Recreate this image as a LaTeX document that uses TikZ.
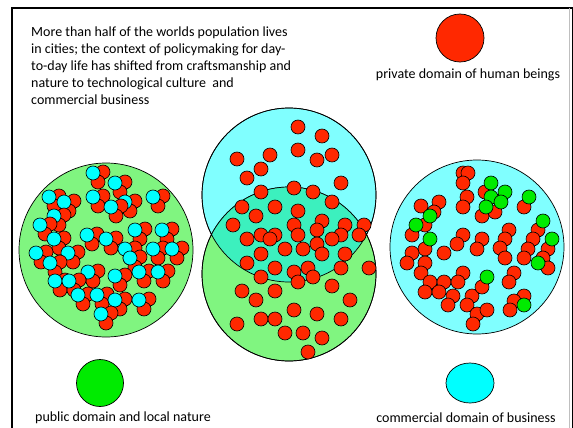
\documentclass[tikz,border=0pt]{standalone}
\usepackage{fontspec}
\setmainfont{Carlito}
\usetikzlibrary{shapes.geometric,positioning}
\definecolor{dotred}{RGB}{255,40,0}
\definecolor{dotcyan}{RGB}{0,255,255}
\definecolor{dotgreen}{RGB}{0,235,0}
\definecolor{paleblue}{RGB}{128,255,255}
\definecolor{palegreen}{RGB}{128,245,128}
\definecolor{mixgreen}{RGB}{60,240,190}

\tikzset{
  dot/.style={circle, draw=black, line width=0.6pt, inner sep=0pt, minimum size=14pt},
  reddot/.style={dot, fill=dotred},
  cyandot/.style={dot, fill=dotcyan},
  greendot/.style={dot, fill=dotgreen},
  bigarea/.style={circle, draw=black, line width=0.7pt, inner sep=0pt, minimum size=174pt},
  keydot/.style={draw=black, line width=0.7pt, inner sep=0pt},
  caption/.style={font=\fontsize{14}{17}\selectfont, inner sep=0pt}
}

\begin{document}
\begin{tikzpicture}[x=1pt, y=-1pt]
    \useasboundingbox (0,0) rectangle (573,428);

    % Frame
    \draw[line width=2.3pt] (12,428) -- (12,8) -- (573,8);
    \draw[gray!50, line width=0.8pt] (569,8) -- (569,428);
    \draw[line width=1pt] (572.5,8) -- (572.5,428);

    % Intro text
    \node[caption, anchor=base west, align=left] (intro) at (31,104)
        {More than half of the worlds population lives\\
         in cities; the context of policymaking for day-\\
         to-day life has shifted from craftsmanship and\\
         nature to technological culture\ \ and\\
         commercial business};

    % Public domain (left)
    \node[bigarea, fill=palegreen] (nature) at (106,250) {};
    \foreach \x/\y [count=\i] in {93/173, 115/183, 49/197, 64/202, 93/197, 125/202, 111/207,
            153/197, 54/216, 40/225, 135/230, 162/230, 87/235, 106/239, 54/239, 36/253,
            68/253, 125/249, 153/249, 172/249, 130/258, 50/263, 88/272, 139/272, 158/272,
            115/276, 55/281, 69/281, 78/295, 97/295, 115/300, 139/300, 101/314} {
        \node[reddot] (na\i) at (\x+10,\y-1) {};
        \node[reddot] (nb\i) at (\x+5,\y+9) {};
        \node[cyandot] (nc\i) at (\x,\y) {};
    }

    % City (middle)
    \node[bigarea, fill=paleblue] (citytop) at (289,195) {};
    \node[bigarea, fill=palegreen] (citybot) at (289,274) {};
    \begin{scope}
        \clip (289,195) circle (87pt);
        \fill[mixgreen] (289,274) circle (87pt);
    \end{scope}
    \draw[line width=0.7pt] (289,195) circle (87pt) (289,274) circle (87pt);
    \foreach \x/\y [count=\i] in {298/127, 322/136, 237/159, 270/155, 298/150, 317/160, 332/155,
            261/169, 247/178, 341/183, 261/192, 294/188, 313/192, 332/202, 242/207, 275/207,
            298/211, 256/216, 233/225, 294/225, 322/221, 317/230, 345/225, 364/225, 247/239,
            261/235, 275/235, 270/239, 298/235, 341/235, 359/235, 332/239, 317/244, 285/249,
            303/249, 261/254, 322/254, 345/254, 247/263, 275/268, 308/268, 294/272, 341/268,
            369/268, 261/277, 313/277, 298/282, 242/291, 275/291, 332/286, 256/300, 350/300,
            294/310, 317/314, 237/324, 261/319, 275/319, 341/319, 285/333, 303/333, 322/338,
            308/352} {
        \node[reddot] (c\i) at (\x,\y) {};
    }

    % Commercial domain (right)
    \node[bigarea, fill=paleblue] (market) at (477,247) {};
    \foreach \x/\y [count=\i] in {463/173, 468/173, 463/183, 467/197, 463/207, 439/202, 421/206,
            434/212, 425/225, 412/235, 485/192, 482/216, 495/212, 524/207, 509/230, 505/239,
            500/248, 505/258, 463/235, 457/244, 482/239, 477/249, 444/253, 425/249, 412/253,
            407/263, 425/263, 421/273, 430/282, 444/282, 425/292, 439/292, 463/273, 458/282,
            453/296, 448/305, 472/296, 467/305, 482/287, 477/314, 473/324, 487/310, 514/273,
            509/282, 524/296, 514/301, 510/310, 538/230, 533/239, 528/249, 524/258, 548/249,
            543/258, 548/268} {
        \node[reddot] (m\i) at (\x,\y) {};
    }
    \foreach \x/\y [count=\i] in {491/183, 505/192, 491/197, 501/202, 486/207, 529/197, 430/216,
            416/225, 430/239, 543/221, 552/239, 538/263, 487/277, 524/305} {
        \node[greendot] (g\i) at (\x,\y) {};
    }

    % Legend
    \node[keydot, circle, fill=dotred, minimum size=48pt] (keyprivate) at (460,38) {};
    \node[caption, anchor=base] (privatelbl) at (468,78) {private domain of human beings};
    \node[keydot, circle, fill=dotgreen, minimum size=47pt] (keypublic) at (100,383) {};
    \node[caption, anchor=base] (publiclbl) at (123,421) {public domain and local nature};
    \node[keydot, ellipse, fill=dotcyan, minimum width=48pt, minimum height=40pt] (keycommerce) at (470,383) {};
    \node[caption, anchor=base] (commercelbl) at (466,422) {commercial domain of business};
\end{tikzpicture}
\end{document}
